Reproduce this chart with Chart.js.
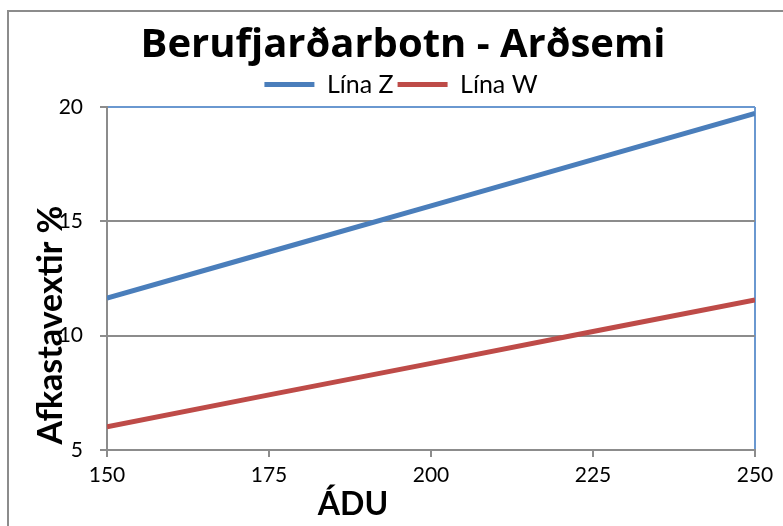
<!DOCTYPE html>
<html>
<head>
<meta charset="utf-8">
<script src="https://cdn.jsdelivr.net/npm/chart.js@4/dist/chart.umd.min.js"></script>
<style>
  html, body { margin: 0; padding: 0; background: #fff; }
  #wrap { width: 783px; height: 526px; }
</style>
</head>
<body>
<div id="wrap"><canvas id="chart" width="783" height="526"></canvas></div>
<script>
// data
var adu = [150, 175, 200, 225, 250];
var linaZ = [11.64, 13.66, 15.68, 17.70, 19.72];
var linaW = [6.02, 7.41, 8.79, 10.18, 11.56];
var yTicks = [5, 10, 15, 20];

var font = "Lato, 'Open Sans', sans-serif";

function pts(vals) {
  return vals.map(function (v, i) { return { x: adu[i], y: v }; });
}

// frame, title and axis titles (axis titles overlap tick labels like the original)
var extras = {
  id: 'extras',
  beforeDraw: function (chart) {
    var c = chart.ctx;
    c.save();
    c.strokeStyle = '#8c8c8c';
    c.lineWidth = 2;
    c.strokeRect(8, 11, 800, 600);
    c.restore();
  },
  afterDraw: function (chart) {
    var c = chart.ctx;
    c.save();
    c.fillStyle = '#000';
    c.textAlign = 'center';
    c.textBaseline = 'alphabetic';
    c.font = "bold 40px 'Open Sans', Lato, sans-serif";
    c.fillText('Berufjarðarbotn - Arðsemi', 403, 57);
    c.textBaseline = 'middle';
    c.font = 'bold 32px ' + font;
    c.fillText('ÁDU', 353, 505);
    c.font = 'bold 34px ' + font;
    c.translate(51, 325);
    c.rotate(-Math.PI / 2);
    c.fillText('Afkastavextir %', 0, 0);
    c.restore();
  }
};

var ctx = document.getElementById('chart').getContext('2d');
var chart = new Chart(ctx, {
  type: 'line',
  data: {
    datasets: [
      {
        label: 'Lína Z',
        data: pts(linaZ),
        borderColor: '#4a7ebb',
        backgroundColor: '#4a7ebb',
        borderWidth: 5,
        pointRadius: 0,
        fill: false
      },
      {
        label: 'Lína W',
        data: pts(linaW),
        borderColor: '#be4b48',
        backgroundColor: '#be4b48',
        borderWidth: 5,
        pointRadius: 0,
        fill: false
      }
    ]
  },
  options: {
    responsive: false,
    animation: false,
    layout: { padding: { left: 47, right: 28, top: 68, bottom: 4 } },
    plugins: {
      title: { display: false },
      legend: {
        display: true,
        labels: {
          color: '#000',
          font: { family: font, size: 25 },
          usePointStyle: true,
          pointStyle: 'line',
          pointStyleWidth: 50,
          boxHeight: 5,
          padding: 4
        }
      },
      tooltip: { enabled: false }
    },
    scales: {
      x: {
        type: 'linear',
        min: 150,
        max: 250,
        afterBuildTicks: function (s) {
          s.ticks = adu.map(function (v) { return { value: v }; });
        },
        border: { display: true, color: '#8c8c8c', width: 2 },
        grid: {
          color: function (c) { return c.tick && c.tick.value === 250 ? '#6a98d0' : 'rgba(0,0,0,0)'; },
          tickColor: '#8c8c8c',
          tickLength: 7,
          lineWidth: 2
        },
        ticks: {
          color: '#000',
          font: { family: font, size: 21 },
          padding: 6,
          maxRotation: 0
        },
        afterFit: function (s) { s.height = 72; }
      },
      y: {
        min: 5,
        max: 20,
        afterBuildTicks: function (s) {
          s.ticks = yTicks.map(function (v) { return { value: v }; });
        },
        border: { display: true, color: '#8c8c8c', width: 2 },
        grid: {
          color: function (c) { return c.tick && c.tick.value === 20 ? '#6a98d0' : '#8c8c8c'; },
          tickColor: '#8c8c8c',
          tickLength: 7,
          lineWidth: 2
        },
        ticks: {
          color: '#000',
          font: { family: font, size: 21 },
          padding: 17
        },
        afterFit: function (s) { s.width = 60; }
      }
    }
  },
  plugins: [extras]
});
</script>
</body>
</html>
